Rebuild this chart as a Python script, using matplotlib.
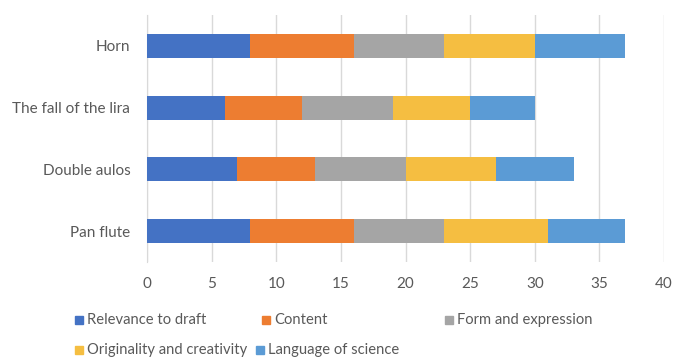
import matplotlib
matplotlib.use("Agg")
import matplotlib.pyplot as plt
from matplotlib.patches import Rectangle

# Danh mục và điểm từng tiêu chí
nhac_cu = ["Pan flute", "Double aulos", "The fall of the lira", "Horn"]
tieu_chi = ["Relevance to draft", "Content", "Form and expression",
            "Originality and creativity", "Language of science"]
relevance = [8, 7, 6, 8]
content = [8, 6, 6, 8]
form_expr = [7, 7, 7, 7]
originality = [8, 7, 6, 7]
language = [6, 6, 5, 7]
xticks = [0, 5, 10, 15, 20, 25, 30, 35, 40]

mau = ["#4472C4", "#ED7D31", "#A5A5A5", "#F5BE41", "#5B9BD5"]
mau_chu = "#595959"
plt.rcParams['font.family'] = ['Lato', 'DejaVu Sans']

fig = plt.figure(figsize=(6.79, 3.57), dpi=100)
ax = fig.add_axes([147 / 679, 1 - 262 / 357, 517 / 679, 247 / 357])

# Vẽ các đoạn chồng nhau
trai = [0] * len(nhac_cu)
for ten, gia_tri, c in zip(tieu_chi, [relevance, content, form_expr, originality, language], mau):
    ax.barh(nhac_cu, gia_tri, left=trai, height=0.39, color=c, label=ten, zorder=3)
    trai = [a + b for a, b in zip(trai, gia_tri)]

ax.set_xlim(0, 40)
ax.set_ylim(-0.5, len(nhac_cu) - 0.5)
ax.set_xticks(xticks)
ax.grid(axis="x", color="#d9d9d9", linewidth=1, zorder=0)
for s in ["top", "right", "bottom"]:
    ax.spines[s].set_visible(False)
ax.spines["left"].set_color("#d9d9d9")
ax.tick_params(axis="y", length=0, labelsize=11, colors=mau_chu, pad=12)
ax.tick_params(axis="x", length=0, labelsize=11, colors=mau_chu, pad=11)

# Chú thích đặt thủ công giống kiểu Excel
vi_tri = [(75, 320), (262, 320), (445, 320), (75, 350), (256, 350)]
for (x, y), ten, c in zip(vi_tri, tieu_chi, mau):
    fig.patches.append(Rectangle((x / 679, 1 - (y + 4) / 357), 8 / 679, 8 / 357,
                                 transform=fig.transFigure, color=c, figure=fig))
    fig.text((x + 12) / 679, 1 - y / 357, ten, fontsize=10.6, color=mau_chu,
             va="center", ha="left")

fig.savefig("out.png", dpi=100)
